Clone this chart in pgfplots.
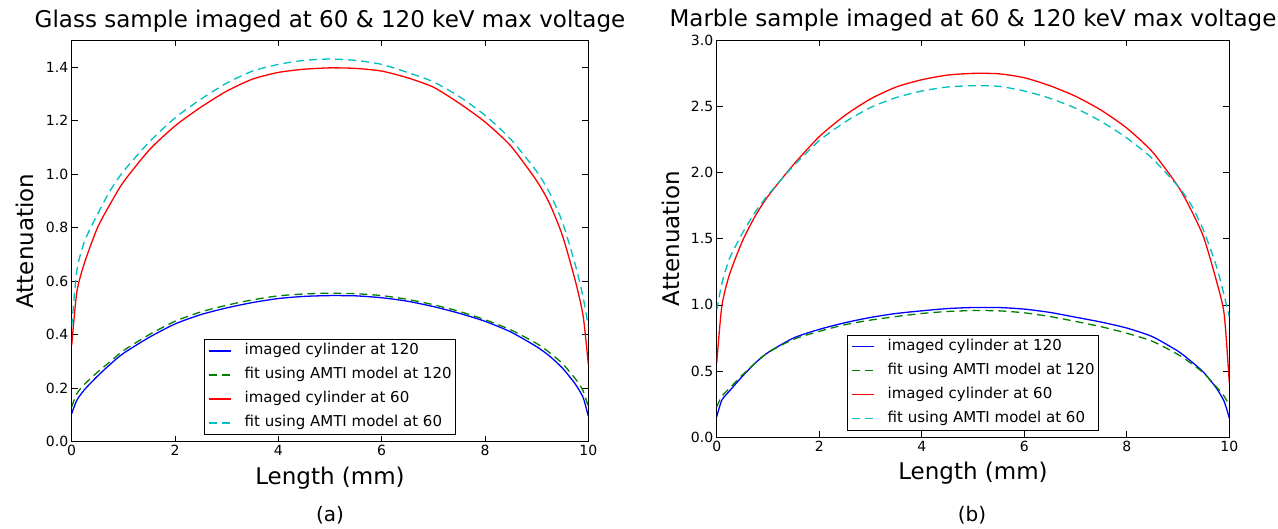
\documentclass[border=0pt]{standalone}
\usepackage{pgfplots}
\pgfplotsset{compat=1.18}
\usepackage{pgfplotstable}
\usepackage{fontspec}
\setmainfont{DejaVu Sans}

\definecolor{mplblue}{rgb}{0,0,1}
\definecolor{mplgreen}{rgb}{0,0.5,0}
\definecolor{mplred}{rgb}{1,0,0}
\definecolor{mplcyan}{rgb}{0,0.75,0.75}

% glass: b = imaged 120, g = fit 120, r = imaged 60, c = fit 60
\pgfplotstableread{
x     b      g      r      c
0     0.105  0.130  0.36   0.43
0.1   0.155  0.180  0.56   0.64
0.25  0.195  0.215  0.67   0.75
0.5   0.245  0.260  0.80   0.85
0.75  0.290  0.300  0.89   0.94
1     0.330  0.340  0.97   1.01
1.5   0.390  0.400  1.09   1.12
2     0.440  0.450  1.18   1.21
2.5   0.475  0.485  1.25   1.28
3     0.500  0.510  1.31   1.34
3.5   0.520  0.530  1.355  1.385
4     0.535  0.545  1.38   1.41
4.5   0.543  0.552  1.392  1.425
5     0.546  0.555  1.397  1.43
5.5   0.545  0.553  1.395  1.425
6     0.538  0.546  1.385  1.41
6.5   0.525  0.532  1.36   1.38
7     0.505  0.512  1.325  1.345
7.5   0.480  0.487  1.265  1.29
8     0.450  0.456  1.195  1.22
8.5   0.410  0.418  1.105  1.13
9     0.355  0.367  0.975  1.01
9.25  0.320  0.333  0.89   0.93
9.5   0.275  0.292  0.77   0.82
9.75  0.215  0.235  0.60   0.66
9.9   0.165  0.190  0.47   0.54
10    0.095  0.130  0.29   0.43
}\glass

% marble
\pgfplotstableread{
x     b      g      r      c
0     0.155  0.23   0.56   0.96
0.1   0.280  0.31   0.99   1.16
0.25  0.350  0.37   1.23   1.35
0.5   0.460  0.47   1.48   1.54
0.75  0.560  0.56   1.67   1.70
1     0.640  0.64   1.82   1.83
1.5   0.750  0.74   2.06   2.05
2     0.815  0.80   2.27   2.24
2.5   0.865  0.85   2.43   2.38
3     0.905  0.885  2.555  2.49
3.5   0.935  0.912  2.645  2.565
4     0.955  0.935  2.70   2.615
4.5   0.972  0.950  2.735  2.645
5     0.980  0.957  2.748  2.655
5.5   0.980  0.955  2.745  2.65
6     0.968  0.940  2.715  2.615
6.5   0.943  0.912  2.655  2.56
7     0.907  0.875  2.575  2.485
7.5   0.870  0.835  2.47   2.385
8     0.825  0.786  2.335  2.26
8.5   0.760  0.725  2.155  2.105
9     0.650  0.625  1.895  1.895
9.25  0.575  0.560  1.72   1.76
9.5   0.490  0.485  1.51   1.56
9.75  0.370  0.380  1.18   1.29
9.9   0.270  0.310  0.93   1.07
10    0.145  0.240  0.41   0.91
}\marble

\pgfplotsset{
  panel/.style={
    scale only axis,
    anchor=south west,
    xmin=0, xmax=10, ymin=0,
    xtick={0,2,4,6,8,10},
    tick pos=both, tick align=inside,
    major tick length=6pt,
    tick style={black, line width=0.6pt},
    axis line style={line width=0.8pt},
    tick label style={font=\fontsize{14}{16}\selectfont, /pgf/number format/assume math mode=true},
    yticklabel style={/pgf/number format/fixed, /pgf/number format/fixed zerofill, /pgf/number format/precision=1},
    title style={font=\fontsize{23}{27}\selectfont, anchor=base, at={(axis description cs:0.5,1)}, yshift=7pt},
    label style={font=\fontsize{23}{27}\selectfont},
    xlabel style={at={(axis description cs:0.5,-0.09)}, anchor=center},
    ylabel style={at={(axis description cs:-0.09,0.5)}, anchor=center},
    xlabel={Length (mm)},
    ylabel={Attenuation},
    legend cell align=left,
    legend style={at={(0.5,0.017)}, anchor=south, draw=black, fill=white,
      font=\fontsize{15}{18}\selectfont,
      nodes={inner sep=0pt, text height=11pt, text depth=4pt},
      column sep=13pt, row sep=9pt, inner xsep=4pt, inner ysep=4pt,
      line width=0.8pt},
    legend image code/.code={\draw[#1] (0pt,0pt) -- (22pt,0pt);},
  },
  sb/.style={mplblue, line width=1.3pt, smooth, tension=0.4},
  sg/.style={mplgreen, line width=1.3pt, dash pattern=on 8pt off 5pt, smooth, tension=0.4},
  sr/.style={mplred, line width=1.3pt, smooth, tension=0.4},
  sc/.style={mplcyan, line width=1.3pt, dash pattern=on 8pt off 5pt, smooth, tension=0.4},
}

\begin{document}
\begin{tikzpicture}
\useasboundingbox (0,0) rectangle (1278pt,528pt);

\begin{axis}[panel, at={(71.7pt,86.3pt)}, width=516.6pt, height=401.4pt,
  ymax=1.5, ytick={0,0.2,0.4,0.6,0.8,1.0,1.2,1.4},
  title={Glass sample imaged at 60 \& 120 keV max voltage}]
\addplot[sb] table[x=x, y=b] {\glass};
\addlegendentry{imaged cylinder at 120}
\addplot[sg] table[x=x, y=g] {\glass};
\addlegendentry{fit using AMTI model at 120}
\addplot[sr] table[x=x, y=r] {\glass};
\addlegendentry{imaged cylinder at 60}
\addplot[sc] table[x=x, y=c] {\glass};
\addlegendentry{fit using AMTI model at 60}
\end{axis}

\begin{axis}[panel, at={(716.7pt,90.7pt)}, width=512.6pt, height=397.3pt,
  ymax=3.0, ytick={0,0.5,1.0,1.5,2.0,2.5,3.0},
  title={Marble sample imaged at 60 \& 120 keV max voltage}]
\addplot[sb] table[x=x, y=b] {\marble};
\addlegendentry{imaged cylinder at 120}
\addplot[sg] table[x=x, y=g] {\marble};
\addlegendentry{fit using AMTI model at 120}
\addplot[sr] table[x=x, y=r] {\marble};
\addlegendentry{imaged cylinder at 60}
\addplot[sc] table[x=x, y=c] {\marble};
\addlegendentry{fit using AMTI model at 60}
\end{axis}

\node[anchor=base, font=\fontsize{20}{24}\selectfont] at (330pt,6.8pt) {(a)};
\node[anchor=base, font=\fontsize{20}{24}\selectfont] at (972pt,6.8pt) {(b)};
\end{tikzpicture}
\end{document}
